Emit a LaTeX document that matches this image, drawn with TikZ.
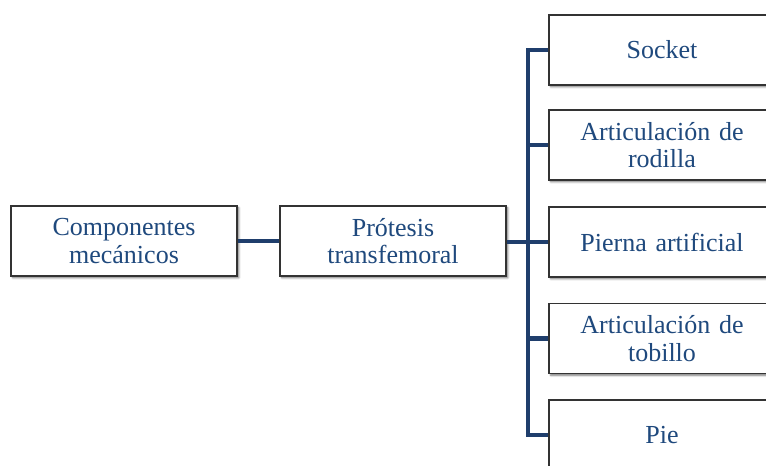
\documentclass[tikz,border=0pt]{standalone}
\usepackage{fontspec}
\setmainfont{Liberation Serif}
\usetikzlibrary{shadows.blur}
\definecolor{txtblue}{RGB}{31,73,125}
\definecolor{linkblue}{RGB}{31,62,108}
\begin{document}
\begin{tikzpicture}[x=1pt,y=-1pt,
  box/.style={draw=black!80, line width=1.3pt, fill=white,
    minimum width=226pt, minimum height=70pt, inner sep=2pt,
    align=center, text width=218pt, text=txtblue,
    font=\fontsize{26pt}{27.5pt}\selectfont,
    blur shadow={shadow xshift=1.8pt, shadow yshift=-1.8pt,
      shadow blur radius=2pt, shadow blur steps=6, shadow opacity=55}},
  link/.style={draw=linkblue, line width=4.3pt}]
  \useasboundingbox (0,0) rectangle (766,466);
  \clip (0,0) rectangle (766,466);

  % left column
  \node[box] (comp) at (124,241) {Componentes\\mecánicos};
  \node[box] (prot) at (393,241) {Prótesis\\transfemoral};

  % right column of parts
  \node[box] (socket) at (662,50)    {Socket};
  \node[box] (rodilla) at (662,145)  {Articulación de\\rodilla};
  \node[box] (pierna) at (662,242)   {Pierna artificial};
  \node[box] (tobillo) at (662,338.5) {Articulación de\\tobillo};
  \node[box] (pie) at (662,435)      {Pie};

  % junction on the vertical trunk
  \coordinate (jn) at (528,242);

  % connectors
  \draw[link] (comp.east) -- (prot.west);
  \draw[link] (prot.east |- jn) -- (pierna.west);
  \draw[link, line join=miter] (socket.west) -- (jn |- socket.west)
        -- (jn |- pie.west) -- (pie.west);
  \draw[link] (jn |- rodilla.west) -- (rodilla.west);
  \draw[link] (jn |- tobillo.west) -- (tobillo.west);
\end{tikzpicture}
\end{document}
